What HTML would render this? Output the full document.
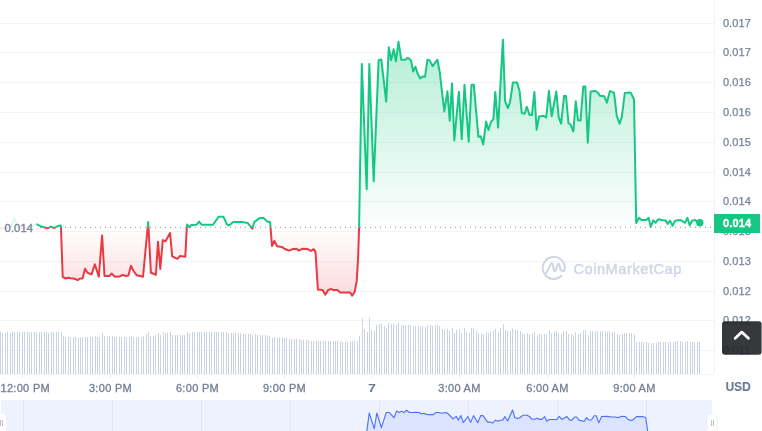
<!DOCTYPE html>
<html><head><meta charset="utf-8"><style>
html,body{margin:0;padding:0;background:#fff;}
body{width:762px;height:431px;overflow:hidden;position:relative;font-family:"Liberation Sans",Arial,sans-serif;}
svg{position:absolute;left:0;top:0;display:block}
svg.main{will-change:transform}
.yl text{font-size:11px;fill:#77819a;stroke:#77819a;stroke-width:0.25px;letter-spacing:0.1px}
.xl text{font-size:11px;fill:#737d94;stroke:#737d94;stroke-width:0.3px;letter-spacing:0.3px}
.xl text.b{font-weight:bold;fill:#6b7790;stroke:none;letter-spacing:0}
</style></head><body>
<svg width="762" height="431" viewBox="0 0 762 431"><text x="725.4" y="391" font-size="12" font-weight="bold" fill="#6a768e" font-family="Liberation Sans, Arial, sans-serif">USD</text></svg>
<svg class="main" width="762" height="431" viewBox="0 0 762 431">
<defs>
<linearGradient id="gg" x1="0" y1="40" x2="0" y2="235" gradientUnits="userSpaceOnUse">
<stop offset="0" stop-color="#16c784" stop-opacity="0.32"/><stop offset="1" stop-color="#16c784" stop-opacity="0"/></linearGradient>
<linearGradient id="rg" x1="0" y1="227" x2="0" y2="297" gradientUnits="userSpaceOnUse">
<stop offset="0" stop-color="#ea3943" stop-opacity="0"/><stop offset="1" stop-color="#ea3943" stop-opacity="0.19"/></linearGradient>
<clipPath id="up"><rect x="0" y="0" width="714" height="227.3"/></clipPath>
<clipPath id="dn"><rect x="0" y="227.3" width="714" height="200"/></clipPath>
<clipPath id="nav"><rect x="1" y="400" width="711" height="31"/></clipPath>
</defs>
<path d="M0 23.5H714M0 52.5H714M0 82.5H714M0 112.5H714M0 142.5H714M0 172.5H714M0 201.5H714M0 231.5H714M0 261.5H714M0 291.5H714M0 320.5H714M0 350.5H714" stroke="#f2f3f5" stroke-width="1" fill="none"/>
<path d="M714.5 0V374" stroke="#f2f3f5" stroke-width="1"/>
<path d="M0 374.5H714" stroke="#f2f3f5" stroke-width="1"/>
<path d="M0.5 332V374M2.5 333.1V374M5.5 333.1V374M7.5 332V374M10.5 333.1V374M12.5 332V374M14.5 332V374M17.5 332V374M19.5 332V374M22.5 332V374M24.5 332V374M27.5 332V374M29.5 332V374M31.5 332V374M34.5 332V374M36.5 332V374M39.5 332V374M41.5 332V374M44.5 332V374M46.5 332V374M48.5 333.1V374M51.5 332V374M53.5 332V374M56.5 332V374M58.5 332V374M61.5 332V374M63.5 336.2V374M65.5 337V374M68.5 337V374M70.5 337V374M73.5 337V374M75.5 337V374M78.5 337.8V374M80.5 337.8V374M82.5 337V374M85.5 337V374M87.5 337V374M90.5 337V374M92.5 337V374M95.5 336.2V374M97.5 337V374M99.5 337V374M102.5 333.1V374M104.5 336.2V374M107.5 336.2V374M109.5 336.2V374M112.5 336.2V374M114.5 337V374M116.5 337V374M119.5 337V374M121.5 337V374M124.5 337V374M126.5 337V374M129.5 337V374M131.5 335.9V374M133.5 337V374M136.5 337V374M138.5 337V374M141.5 337V374M143.5 335.9V374M146.5 333.9V374M148.5 332V374M150.5 335.9V374M153.5 335.9V374M155.5 335V374M158.5 333.1V374M160.5 335V374M163.5 332V374M165.5 333.1V374M167.5 333.1V374M170.5 332V374M172.5 335V374M175.5 335V374M177.5 335V374M180.5 335V374M182.5 335V374M184.5 335V374M187.5 332V374M189.5 333.1V374M192.5 332V374M194.5 332V374M197.5 332V374M199.5 332V374M201.5 332V374M204.5 332V374M206.5 332V374M209.5 332V374M211.5 332V374M214.5 332V374M216.5 332V374M218.5 332V374M221.5 332V374M223.5 332V374M226.5 332V374M228.5 333.1V374M231.5 333.1V374M233.5 333.1V374M235.5 333.1V374M238.5 333.1V374M240.5 333.1V374M243.5 333.9V374M245.5 333.9V374M248.5 333.9V374M250.5 333.9V374M252.5 335V374M255.5 333.9V374M257.5 335V374M260.5 335V374M262.5 335V374M265.5 335V374M267.5 335.9V374M269.5 335.9V374M272.5 337.8V374M274.5 337V374M277.5 337.8V374M279.5 337.8V374M282.5 337.8V374M284.5 337.8V374M286.5 337.8V374M289.5 338.9V374M291.5 338.9V374M294.5 338.9V374M296.5 338.9V374M299.5 338.9V374M301.5 339.9V374M303.5 339.9V374M306.5 339.9V374M308.5 339.9V374M311.5 341V374M313.5 341V374M316.5 341V374M318.5 341V374M320.5 341V374M323.5 341V374M325.5 341V374M328.5 341V374M330.5 341V374M333.5 341V374M335.5 341V374M337.5 341V374M340.5 341.7V374M342.5 341.7V374M345.5 341.7V374M347.5 341.7V374M350.5 341.7V374M352.5 341.2V374M354.5 341V374M357.5 341.1V374M359.5 336V374M362.5 317.9V374M364.5 329V374M367.5 332.1V374M369.5 317.9V374M371.5 330.1V374M374.5 331V374M376.5 325V374M379.5 323.9V374M381.5 323.9V374M384.5 326.1V374M386.5 328.2V374M388.5 323V374M391.5 323.9V374M393.5 323.9V374M396.5 325V374M398.5 323V374M401.5 325V374M403.5 325V374M405.5 325V374M408.5 325V374M410.5 325V374M413.5 326.1V374M415.5 326.1V374M418.5 326.1V374M420.5 327.1V374M422.5 326.1V374M425.5 327.1V374M427.5 325V374M430.5 325V374M432.5 326.1V374M435.5 325V374M437.5 325V374M439.5 326.1V374M442.5 329V374M444.5 330.1V374M447.5 329V374M449.5 331V374M452.5 328.2V374M454.5 333.2V374M456.5 330.1V374M459.5 329V374M461.5 333.2V374M464.5 328.2V374M466.5 332.1V374M469.5 333.2V374M471.5 328.2V374M473.5 328.2V374M476.5 331V374M478.5 333.2V374M481.5 333.2V374M483.5 334.2V374M486.5 332.1V374M488.5 333.2V374M490.5 332.1V374M493.5 331V374M495.5 329V374M498.5 332.1V374M500.5 328.2V374M503.5 324.2V374M505.5 330.1V374M507.5 331V374M510.5 331V374M512.5 329V374M515.5 330.1V374M517.5 330.1V374M520.5 331V374M522.5 333.2V374M524.5 334.2V374M527.5 333.2V374M529.5 334.2V374M532.5 334.2V374M534.5 332.1V374M537.5 335.3V374M539.5 334.2V374M541.5 334.2V374M544.5 334.2V374M546.5 334.2V374M549.5 331V374M551.5 333.2V374M554.5 332.1V374M556.5 331V374M558.5 333.2V374M561.5 334.2V374M563.5 331V374M566.5 331V374M568.5 334.2V374M571.5 334.2V374M573.5 335.3V374M575.5 332.1V374M578.5 334.2V374M580.5 333.2V374M583.5 330.1V374M585.5 330.1V374M588.5 335.3V374M590.5 331V374M592.5 331V374M595.5 331V374M597.5 331V374M600.5 331V374M602.5 331V374M605.5 331V374M607.5 331.8V374M609.5 331V374M612.5 332.1V374M614.5 332.1V374M617.5 334.2V374M619.5 335V374M622.5 334.2V374M624.5 333.1V374M626.5 333.1V374M629.5 333.1V374M631.5 333.1V374M634.5 334.2V374M636.5 342V374M639.5 342V374M641.5 342V374M643.5 342V374M646.5 342V374M648.5 343.1V374M651.5 343.1V374M653.5 343.1V374M656.5 343.1V374M658.5 342V374M660.5 342V374M663.5 342V374M665.5 342V374M668.5 342V374M670.5 342V374M673.5 342V374M675.5 341V374M677.5 341V374M680.5 341V374M682.5 342V374M685.5 342V374M687.5 341V374M690.5 342V374M692.5 342V374M694.5 342V374M697.5 342V374M699.5 342V374" stroke="#cbd2e3" stroke-width="1" fill="none"/>
<path d="M22.5 375V378M110.5 375V378M197.5 375V378M284.5 375V378M372.5 375V378M459.5 375V378M547.5 375V378M634.5 375V378" stroke="#e8ebf0" stroke-width="1"/>
<path d="M0 228.2 L4 228.6 L8 227.8 L11 226.5 L14.5 218.2 L17 226.8 L20 227.6 L24 228 L28 227.6 L31 226.6 L34.8 224.5 L37 224.4 L40.4 226.2 L47.4 228.3 L50.9 226.7 L54.4 228 L57.8 226 L60.9 225.5 L62.7 276.9 L65.6 278.5 L68 277.8 L71 278.3 L74.5 278.8 L77.7 280.1 L80 278.5 L82.6 278.5 L85 268.8 L87.5 272.8 L91.6 274.4 L94.8 264.2 L98.8 276.8 L102.1 235.4 L104.5 276 L109.4 276 L111.5 273.6 L115 276.8 L119 276.6 L122.8 275 L126 276 L128.4 275.6 L130.9 265.8 L133.5 271 L136.7 275.2 L140 276 L143 276.8 L148.2 221.9 L150.9 272.7 L155.9 274.7 L158 241.8 L160.3 268.9 L162.8 240.1 L165.5 241.3 L170.1 233 L172.2 256.4 L177.4 258.9 L180.1 256 L185.3 256.8 L187 224.4 L189.3 227.1 L191.4 225 L196.3 224.8 L199.1 221.6 L201.8 224.8 L213 224.8 L218.6 216.7 L223.4 216.7 L226.9 224.4 L229 225.5 L233.2 222 L242.2 222 L245 222.6 L247.8 223.1 L252.4 228.6 L254.3 222 L259.6 218.1 L263.8 218.1 L267.3 221.6 L270.1 222 L272 246 L274.3 240.8 L277.1 246.3 L281.7 246.9 L285.4 249.3 L289.1 250.6 L291.9 249.3 L296.5 248.8 L298.8 250.6 L302.1 248.8 L307.7 249.1 L311 251 L313.6 249.1 L315.5 251.9 L317.9 289.6 L322.5 290.1 L325.3 294.6 L328.1 290.1 L330.9 289 L333.6 290.1 L337.4 290.1 L340.1 292.4 L350.3 292.4 L352.2 295.7 L354.6 292 L356.7 281.4 L358.1 258.1 L359.1 227.4 L361.8 63.9 L366.7 189.3 L369.3 63.9 L373.7 181.2 L378.6 60.2 L381.3 59.4 L386.2 101.6 L388.8 47.2 L391.1 60.2 L393.7 49.3 L395.9 61.3 L398.5 41.8 L401.3 59.7 L405.3 59.7 L407.8 57.7 L411 60.2 L413.1 71.5 L415.4 66.7 L417.5 73.2 L420.3 78.5 L422.4 76.4 L425.1 76.7 L427.4 59.7 L429.7 60.4 L432.7 66.2 L437.4 59.7 L439.7 72 L444.3 111.4 L447.4 91.3 L449.7 120.7 L452 83.6 L454.3 140.4 L458.9 91.7 L461.7 139.2 L464.5 84.8 L468.7 141.6 L471.5 84.8 L473.8 84.8 L478.4 136.9 L480.7 136.2 L483.2 144.5 L486.1 121.5 L488.4 130 L491.2 121.5 L493.4 119.2 L495.3 91.9 L498.1 127.6 L502.9 39.8 L505.1 101.1 L507.9 108.1 L510.1 101.9 L512.9 82.4 L517.1 82.4 L519.6 91.3 L521.8 113.1 L524.6 113.7 L526.8 106.7 L529.6 115.1 L531.9 115.1 L534.4 91.9 L536.6 129.8 L539.1 116.4 L543.6 115.7 L546.2 117.5 L548.9 90.8 L551.7 116.3 L556.3 91.5 L558.7 117.2 L561.1 123.7 L564.1 95.7 L566 96 L568.5 123.3 L570.6 124.5 L573.3 131.5 L575.8 101.2 L578 120.3 L580.5 120.6 L583.3 86.4 L585.3 86.4 L587.8 142.8 L590.6 91.5 L595.6 91 L597.9 92.7 L600.1 95.8 L604.3 96.3 L606.9 102.7 L609.9 91.1 L614 92.6 L616.8 116.2 L619.6 123.6 L621.8 117.1 L624.8 93 L630.7 92.6 L634 99.5 L636.2 223.1 L638.9 217.7 L641.5 220 L646.3 220 L648.6 217.7 L650.7 226.9 L653.3 220.4 L655.5 222.8 L658.3 219.2 L661.6 220 L665.4 220.4 L667.8 223.9 L670.1 220.7 L672.5 225.9 L675.2 220.7 L680.5 220 L685 222.8 L687.5 217.8 L689.7 225.5 L692.1 220.7 L695.3 220 L697 221.6 L699.6 222.4 L699.6 227.3 L0 227.3 Z" fill="url(#gg)" clip-path="url(#up)"/>
<path d="M0 228.2 L4 228.6 L8 227.8 L11 226.5 L14.5 218.2 L17 226.8 L20 227.6 L24 228 L28 227.6 L31 226.6 L34.8 224.5 L37 224.4 L40.4 226.2 L47.4 228.3 L50.9 226.7 L54.4 228 L57.8 226 L60.9 225.5 L62.7 276.9 L65.6 278.5 L68 277.8 L71 278.3 L74.5 278.8 L77.7 280.1 L80 278.5 L82.6 278.5 L85 268.8 L87.5 272.8 L91.6 274.4 L94.8 264.2 L98.8 276.8 L102.1 235.4 L104.5 276 L109.4 276 L111.5 273.6 L115 276.8 L119 276.6 L122.8 275 L126 276 L128.4 275.6 L130.9 265.8 L133.5 271 L136.7 275.2 L140 276 L143 276.8 L148.2 221.9 L150.9 272.7 L155.9 274.7 L158 241.8 L160.3 268.9 L162.8 240.1 L165.5 241.3 L170.1 233 L172.2 256.4 L177.4 258.9 L180.1 256 L185.3 256.8 L187 224.4 L189.3 227.1 L191.4 225 L196.3 224.8 L199.1 221.6 L201.8 224.8 L213 224.8 L218.6 216.7 L223.4 216.7 L226.9 224.4 L229 225.5 L233.2 222 L242.2 222 L245 222.6 L247.8 223.1 L252.4 228.6 L254.3 222 L259.6 218.1 L263.8 218.1 L267.3 221.6 L270.1 222 L272 246 L274.3 240.8 L277.1 246.3 L281.7 246.9 L285.4 249.3 L289.1 250.6 L291.9 249.3 L296.5 248.8 L298.8 250.6 L302.1 248.8 L307.7 249.1 L311 251 L313.6 249.1 L315.5 251.9 L317.9 289.6 L322.5 290.1 L325.3 294.6 L328.1 290.1 L330.9 289 L333.6 290.1 L337.4 290.1 L340.1 292.4 L350.3 292.4 L352.2 295.7 L354.6 292 L356.7 281.4 L358.1 258.1 L359.1 227.4 L361.8 63.9 L366.7 189.3 L369.3 63.9 L373.7 181.2 L378.6 60.2 L381.3 59.4 L386.2 101.6 L388.8 47.2 L391.1 60.2 L393.7 49.3 L395.9 61.3 L398.5 41.8 L401.3 59.7 L405.3 59.7 L407.8 57.7 L411 60.2 L413.1 71.5 L415.4 66.7 L417.5 73.2 L420.3 78.5 L422.4 76.4 L425.1 76.7 L427.4 59.7 L429.7 60.4 L432.7 66.2 L437.4 59.7 L439.7 72 L444.3 111.4 L447.4 91.3 L449.7 120.7 L452 83.6 L454.3 140.4 L458.9 91.7 L461.7 139.2 L464.5 84.8 L468.7 141.6 L471.5 84.8 L473.8 84.8 L478.4 136.9 L480.7 136.2 L483.2 144.5 L486.1 121.5 L488.4 130 L491.2 121.5 L493.4 119.2 L495.3 91.9 L498.1 127.6 L502.9 39.8 L505.1 101.1 L507.9 108.1 L510.1 101.9 L512.9 82.4 L517.1 82.4 L519.6 91.3 L521.8 113.1 L524.6 113.7 L526.8 106.7 L529.6 115.1 L531.9 115.1 L534.4 91.9 L536.6 129.8 L539.1 116.4 L543.6 115.7 L546.2 117.5 L548.9 90.8 L551.7 116.3 L556.3 91.5 L558.7 117.2 L561.1 123.7 L564.1 95.7 L566 96 L568.5 123.3 L570.6 124.5 L573.3 131.5 L575.8 101.2 L578 120.3 L580.5 120.6 L583.3 86.4 L585.3 86.4 L587.8 142.8 L590.6 91.5 L595.6 91 L597.9 92.7 L600.1 95.8 L604.3 96.3 L606.9 102.7 L609.9 91.1 L614 92.6 L616.8 116.2 L619.6 123.6 L621.8 117.1 L624.8 93 L630.7 92.6 L634 99.5 L636.2 223.1 L638.9 217.7 L641.5 220 L646.3 220 L648.6 217.7 L650.7 226.9 L653.3 220.4 L655.5 222.8 L658.3 219.2 L661.6 220 L665.4 220.4 L667.8 223.9 L670.1 220.7 L672.5 225.9 L675.2 220.7 L680.5 220 L685 222.8 L687.5 217.8 L689.7 225.5 L692.1 220.7 L695.3 220 L697 221.6 L699.6 222.4 L699.6 227.3 L0 227.3 Z" fill="url(#rg)" clip-path="url(#dn)"/>
<path d="M40 227.3H714" stroke="#8d94a3" stroke-width="1" stroke-dasharray="1 4" fill="none"/>
<g fill="none" stroke-width="2" stroke-linejoin="round" stroke-linecap="round">
<path d="M0 228.2 L4 228.6 L8 227.8 L11 226.5 L14.5 218.2 L17 226.8 L20 227.6 L24 228 L28 227.6 L31 226.6 L34.8 224.5 L37 224.4 L40.4 226.2 L47.4 228.3 L50.9 226.7 L54.4 228 L57.8 226 L60.9 225.5 L62.7 276.9 L65.6 278.5 L68 277.8 L71 278.3 L74.5 278.8 L77.7 280.1 L80 278.5 L82.6 278.5 L85 268.8 L87.5 272.8 L91.6 274.4 L94.8 264.2 L98.8 276.8 L102.1 235.4 L104.5 276 L109.4 276 L111.5 273.6 L115 276.8 L119 276.6 L122.8 275 L126 276 L128.4 275.6 L130.9 265.8 L133.5 271 L136.7 275.2 L140 276 L143 276.8 L148.2 221.9 L150.9 272.7 L155.9 274.7 L158 241.8 L160.3 268.9 L162.8 240.1 L165.5 241.3 L170.1 233 L172.2 256.4 L177.4 258.9 L180.1 256 L185.3 256.8 L187 224.4 L189.3 227.1 L191.4 225 L196.3 224.8 L199.1 221.6 L201.8 224.8 L213 224.8 L218.6 216.7 L223.4 216.7 L226.9 224.4 L229 225.5 L233.2 222 L242.2 222 L245 222.6 L247.8 223.1 L252.4 228.6 L254.3 222 L259.6 218.1 L263.8 218.1 L267.3 221.6 L270.1 222 L272 246 L274.3 240.8 L277.1 246.3 L281.7 246.9 L285.4 249.3 L289.1 250.6 L291.9 249.3 L296.5 248.8 L298.8 250.6 L302.1 248.8 L307.7 249.1 L311 251 L313.6 249.1 L315.5 251.9 L317.9 289.6 L322.5 290.1 L325.3 294.6 L328.1 290.1 L330.9 289 L333.6 290.1 L337.4 290.1 L340.1 292.4 L350.3 292.4 L352.2 295.7 L354.6 292 L356.7 281.4 L358.1 258.1 L359.1 227.4 L361.8 63.9 L366.7 189.3 L369.3 63.9 L373.7 181.2 L378.6 60.2 L381.3 59.4 L386.2 101.6 L388.8 47.2 L391.1 60.2 L393.7 49.3 L395.9 61.3 L398.5 41.8 L401.3 59.7 L405.3 59.7 L407.8 57.7 L411 60.2 L413.1 71.5 L415.4 66.7 L417.5 73.2 L420.3 78.5 L422.4 76.4 L425.1 76.7 L427.4 59.7 L429.7 60.4 L432.7 66.2 L437.4 59.7 L439.7 72 L444.3 111.4 L447.4 91.3 L449.7 120.7 L452 83.6 L454.3 140.4 L458.9 91.7 L461.7 139.2 L464.5 84.8 L468.7 141.6 L471.5 84.8 L473.8 84.8 L478.4 136.9 L480.7 136.2 L483.2 144.5 L486.1 121.5 L488.4 130 L491.2 121.5 L493.4 119.2 L495.3 91.9 L498.1 127.6 L502.9 39.8 L505.1 101.1 L507.9 108.1 L510.1 101.9 L512.9 82.4 L517.1 82.4 L519.6 91.3 L521.8 113.1 L524.6 113.7 L526.8 106.7 L529.6 115.1 L531.9 115.1 L534.4 91.9 L536.6 129.8 L539.1 116.4 L543.6 115.7 L546.2 117.5 L548.9 90.8 L551.7 116.3 L556.3 91.5 L558.7 117.2 L561.1 123.7 L564.1 95.7 L566 96 L568.5 123.3 L570.6 124.5 L573.3 131.5 L575.8 101.2 L578 120.3 L580.5 120.6 L583.3 86.4 L585.3 86.4 L587.8 142.8 L590.6 91.5 L595.6 91 L597.9 92.7 L600.1 95.8 L604.3 96.3 L606.9 102.7 L609.9 91.1 L614 92.6 L616.8 116.2 L619.6 123.6 L621.8 117.1 L624.8 93 L630.7 92.6 L634 99.5 L636.2 223.1 L638.9 217.7 L641.5 220 L646.3 220 L648.6 217.7 L650.7 226.9 L653.3 220.4 L655.5 222.8 L658.3 219.2 L661.6 220 L665.4 220.4 L667.8 223.9 L670.1 220.7 L672.5 225.9 L675.2 220.7 L680.5 220 L685 222.8 L687.5 217.8 L689.7 225.5 L692.1 220.7 L695.3 220 L697 221.6 L699.6 222.4" stroke="#16c784" clip-path="url(#up)"/>
<path d="M0 228.2 L4 228.6 L8 227.8 L11 226.5 L14.5 218.2 L17 226.8 L20 227.6 L24 228 L28 227.6 L31 226.6 L34.8 224.5 L37 224.4 L40.4 226.2 L47.4 228.3 L50.9 226.7 L54.4 228 L57.8 226 L60.9 225.5 L62.7 276.9 L65.6 278.5 L68 277.8 L71 278.3 L74.5 278.8 L77.7 280.1 L80 278.5 L82.6 278.5 L85 268.8 L87.5 272.8 L91.6 274.4 L94.8 264.2 L98.8 276.8 L102.1 235.4 L104.5 276 L109.4 276 L111.5 273.6 L115 276.8 L119 276.6 L122.8 275 L126 276 L128.4 275.6 L130.9 265.8 L133.5 271 L136.7 275.2 L140 276 L143 276.8 L148.2 221.9 L150.9 272.7 L155.9 274.7 L158 241.8 L160.3 268.9 L162.8 240.1 L165.5 241.3 L170.1 233 L172.2 256.4 L177.4 258.9 L180.1 256 L185.3 256.8 L187 224.4 L189.3 227.1 L191.4 225 L196.3 224.8 L199.1 221.6 L201.8 224.8 L213 224.8 L218.6 216.7 L223.4 216.7 L226.9 224.4 L229 225.5 L233.2 222 L242.2 222 L245 222.6 L247.8 223.1 L252.4 228.6 L254.3 222 L259.6 218.1 L263.8 218.1 L267.3 221.6 L270.1 222 L272 246 L274.3 240.8 L277.1 246.3 L281.7 246.9 L285.4 249.3 L289.1 250.6 L291.9 249.3 L296.5 248.8 L298.8 250.6 L302.1 248.8 L307.7 249.1 L311 251 L313.6 249.1 L315.5 251.9 L317.9 289.6 L322.5 290.1 L325.3 294.6 L328.1 290.1 L330.9 289 L333.6 290.1 L337.4 290.1 L340.1 292.4 L350.3 292.4 L352.2 295.7 L354.6 292 L356.7 281.4 L358.1 258.1 L359.1 227.4 L361.8 63.9 L366.7 189.3 L369.3 63.9 L373.7 181.2 L378.6 60.2 L381.3 59.4 L386.2 101.6 L388.8 47.2 L391.1 60.2 L393.7 49.3 L395.9 61.3 L398.5 41.8 L401.3 59.7 L405.3 59.7 L407.8 57.7 L411 60.2 L413.1 71.5 L415.4 66.7 L417.5 73.2 L420.3 78.5 L422.4 76.4 L425.1 76.7 L427.4 59.7 L429.7 60.4 L432.7 66.2 L437.4 59.7 L439.7 72 L444.3 111.4 L447.4 91.3 L449.7 120.7 L452 83.6 L454.3 140.4 L458.9 91.7 L461.7 139.2 L464.5 84.8 L468.7 141.6 L471.5 84.8 L473.8 84.8 L478.4 136.9 L480.7 136.2 L483.2 144.5 L486.1 121.5 L488.4 130 L491.2 121.5 L493.4 119.2 L495.3 91.9 L498.1 127.6 L502.9 39.8 L505.1 101.1 L507.9 108.1 L510.1 101.9 L512.9 82.4 L517.1 82.4 L519.6 91.3 L521.8 113.1 L524.6 113.7 L526.8 106.7 L529.6 115.1 L531.9 115.1 L534.4 91.9 L536.6 129.8 L539.1 116.4 L543.6 115.7 L546.2 117.5 L548.9 90.8 L551.7 116.3 L556.3 91.5 L558.7 117.2 L561.1 123.7 L564.1 95.7 L566 96 L568.5 123.3 L570.6 124.5 L573.3 131.5 L575.8 101.2 L578 120.3 L580.5 120.6 L583.3 86.4 L585.3 86.4 L587.8 142.8 L590.6 91.5 L595.6 91 L597.9 92.7 L600.1 95.8 L604.3 96.3 L606.9 102.7 L609.9 91.1 L614 92.6 L616.8 116.2 L619.6 123.6 L621.8 117.1 L624.8 93 L630.7 92.6 L634 99.5 L636.2 223.1 L638.9 217.7 L641.5 220 L646.3 220 L648.6 217.7 L650.7 226.9 L653.3 220.4 L655.5 222.8 L658.3 219.2 L661.6 220 L665.4 220.4 L667.8 223.9 L670.1 220.7 L672.5 225.9 L675.2 220.7 L680.5 220 L685 222.8 L687.5 217.8 L689.7 225.5 L692.1 220.7 L695.3 220 L697 221.6 L699.6 222.4" stroke="#ea3943" clip-path="url(#dn)"/>
</g>
<circle cx="699.8" cy="222.7" r="3.7" fill="#16c784"/>
<g fill="#cfd6e4">
<text x="573.4" y="274" font-size="14.6" letter-spacing="0.55" fill="#cfd6e4" stroke="#cfd6e4" stroke-width="0.5">CoinMarketCap</text>
</g>
<g fill="none" stroke="#cdd4e4" stroke-width="1.9" stroke-linecap="round" stroke-linejoin="round">
<path d="M561.4 275.8 A11 11 0 1 1 564.4 270.6"/>
<path d="M546.3 273.2 L550.6 264.4 Q551.8 262.2 552.8 264.4 L553.9 270.2 Q554.6 272 555.6 270.2 L557.6 264.6 Q558.6 262.6 559.4 264.8 L560.3 268.6 Q561.3 271.8 564.2 270.6"/>
</g>
<rect x="0" y="216" width="36.5" height="23" fill="#fff" fill-opacity="0.86"/>
<text x="4.6" y="232.1" font-size="11.4" fill="#7a8499" stroke="#7a8499" stroke-width="0.35" letter-spacing="0">0.014</text>
<g class="yl"><text x="722.9" y="26.8">0.017</text><text x="722.9" y="55.8">0.017</text><text x="722.9" y="85.8">0.016</text><text x="722.9" y="115.8">0.016</text><text x="722.9" y="145.8">0.015</text><text x="722.9" y="175.8">0.014</text><text x="722.9" y="204.8">0.014</text><text x="722.9" y="234.8">0.013</text><text x="722.9" y="264.8">0.013</text><text x="722.9" y="294.8">0.012</text><text x="722.9" y="323.8">0.012</text><text x="722.9" y="353.8">0.011</text></g>
<rect x="714" y="214" width="46" height="19" fill="#16c784"/>
<text x="722.9" y="226.9" font-size="11" font-weight="bold" fill="#fff" stroke="#fff" stroke-width="0.35" letter-spacing="0.2">0.014</text>
<g class="xl"><text x="0.5" y="391.9" text-anchor="start">12:00 PM</text><text x="110.5" y="391.9" text-anchor="middle">3:00 PM</text><text x="197.5" y="391.9" text-anchor="middle">6:00 PM</text><text x="284.5" y="391.9" text-anchor="middle">9:00 PM</text><text x="459.5" y="391.9" text-anchor="middle">3:00 AM</text><text x="547.5" y="391.9" text-anchor="middle">6:00 AM</text><text x="634.5" y="391.9" text-anchor="middle">9:00 AM</text><text class="b" transform="translate(371.95 391.9) scale(1.3 1)" x="0" y="0" text-anchor="middle">7</text></g>
<rect x="1" y="400" width="711" height="31" fill="#eef2fe"/>
<path d="M23.5 400V431M112.5 400V431M201.5 400V431M290.5 400V431M379.5 400V431M468.5 400V431M557.5 400V431M646.5 400V431" stroke="#e0e6f6" stroke-width="1"/>
<g clip-path="url(#nav)">
<path d="M1.8 433.52 L5.86 433.57 L9.92 433.48 L12.97 433.31 L16.53 432.27 L19.07 433.35 L22.11 433.45 L26.17 433.5 L30.24 433.45 L33.28 433.32 L37.14 433.06 L39.38 433.05 L42.83 433.27 L49.94 433.54 L53.49 433.34 L57.05 433.5 L60.5 433.25 L63.65 433.19 L65.48 439.61 L68.42 439.81 L70.86 439.73 L73.91 439.79 L77.46 439.85 L80.71 440.01 L83.05 439.81 L85.69 439.81 L88.13 438.6 L90.67 439.1 L94.83 439.3 L98.08 438.02 L102.14 439.6 L105.49 434.43 L107.93 439.5 L112.91 439.5 L115.04 439.2 L118.59 439.6 L122.66 439.57 L126.52 439.38 L129.77 439.5 L132.2 439.45 L134.74 438.23 L137.38 438.88 L140.63 439.4 L143.98 439.5 L147.03 439.6 L152.31 432.74 L155.05 439.09 L160.13 439.34 L162.26 435.23 L164.6 438.61 L167.14 435.01 L169.88 435.16 L174.55 434.12 L176.69 437.05 L181.97 437.36 L184.71 437 L189.99 437.1 L191.72 433.05 L194.05 433.39 L196.19 433.12 L201.16 433.1 L204.01 432.7 L206.75 433.1 L218.12 433.1 L223.81 432.09 L228.69 432.09 L232.24 433.05 L234.37 433.19 L238.64 432.75 L247.78 432.75 L250.62 432.82 L253.47 432.89 L258.14 433.57 L260.07 432.75 L265.45 432.26 L269.72 432.26 L273.27 432.7 L276.11 432.75 L278.04 435.75 L280.38 435.1 L283.22 435.79 L287.89 435.86 L291.65 436.16 L295.41 436.32 L298.25 436.16 L302.93 436.1 L305.26 436.32 L308.61 436.1 L314.3 436.14 L317.65 436.38 L320.29 436.14 L322.22 436.49 L324.66 441.2 L329.33 441.26 L332.17 441.82 L335.02 441.26 L337.86 441.12 L340.6 441.26 L344.46 441.26 L347.21 441.55 L357.56 441.55 L359.49 441.96 L361.93 441.5 L364.06 440.18 L365.49 437.26 L366.5 433.43 L369.24 412.99 L374.22 428.66 L376.86 412.99 L381.33 427.65 L386.31 412.52 L389.05 412.43 L394.02 417.7 L396.67 410.9 L399 412.52 L401.64 411.16 L403.88 412.66 L406.52 410.23 L409.36 412.46 L413.42 412.46 L415.96 412.21 L419.21 412.52 L421.34 413.94 L423.68 413.34 L425.81 414.15 L428.66 414.81 L430.79 414.55 L433.53 414.59 L435.87 412.46 L438.2 412.55 L441.25 413.27 L446.02 412.46 L448.36 414 L453.03 418.93 L456.18 416.41 L458.52 420.09 L460.85 415.45 L463.19 422.55 L467.86 416.46 L470.7 422.4 L473.55 415.6 L477.81 422.7 L480.66 415.6 L482.99 415.6 L487.66 422.11 L490 422.02 L492.54 423.06 L495.48 420.19 L497.82 421.25 L500.66 420.19 L502.9 419.9 L504.83 416.49 L507.67 420.95 L512.55 409.98 L514.78 417.64 L517.62 418.51 L519.86 417.74 L522.7 415.3 L526.97 415.3 L529.51 416.41 L531.74 419.14 L534.58 419.21 L536.82 418.34 L539.66 419.39 L542 419.39 L544.54 416.49 L546.77 421.23 L549.31 419.55 L553.88 419.46 L556.52 419.69 L559.26 416.35 L562.11 419.54 L566.78 416.44 L569.22 419.65 L571.65 420.46 L574.7 416.96 L576.63 417 L579.17 420.41 L581.3 420.56 L584.04 421.44 L586.58 417.65 L588.82 420.04 L591.36 420.07 L594.2 415.8 L596.23 415.8 L598.77 422.85 L601.61 416.44 L606.69 416.38 L609.03 416.59 L611.26 416.98 L615.53 417.04 L618.17 417.84 L621.21 416.39 L625.38 416.57 L628.22 419.52 L631.07 420.45 L633.3 419.64 L636.35 416.62 L642.34 416.57 L645.69 417.44 L647.92 432.89 L650.67 432.21 L653.31 432.5 L658.18 432.5 L660.52 432.21 L662.65 433.36 L665.29 432.55 L667.53 432.85 L670.37 432.4 L673.72 432.5 L677.58 432.55 L680.02 432.99 L682.35 432.59 L684.79 433.24 L687.53 432.59 L692.92 432.5 L697.49 432.85 L700.02 432.23 L702.26 433.19 L704.7 432.59 L707.95 432.5 L709.67 432.7 L712.31 432.8 L712.31 460 L1.8 460 Z" fill="#dce3fd"/>
<path d="M1.8 433.52 L5.86 433.57 L9.92 433.48 L12.97 433.31 L16.53 432.27 L19.07 433.35 L22.11 433.45 L26.17 433.5 L30.24 433.45 L33.28 433.32 L37.14 433.06 L39.38 433.05 L42.83 433.27 L49.94 433.54 L53.49 433.34 L57.05 433.5 L60.5 433.25 L63.65 433.19 L65.48 439.61 L68.42 439.81 L70.86 439.73 L73.91 439.79 L77.46 439.85 L80.71 440.01 L83.05 439.81 L85.69 439.81 L88.13 438.6 L90.67 439.1 L94.83 439.3 L98.08 438.02 L102.14 439.6 L105.49 434.43 L107.93 439.5 L112.91 439.5 L115.04 439.2 L118.59 439.6 L122.66 439.57 L126.52 439.38 L129.77 439.5 L132.2 439.45 L134.74 438.23 L137.38 438.88 L140.63 439.4 L143.98 439.5 L147.03 439.6 L152.31 432.74 L155.05 439.09 L160.13 439.34 L162.26 435.23 L164.6 438.61 L167.14 435.01 L169.88 435.16 L174.55 434.12 L176.69 437.05 L181.97 437.36 L184.71 437 L189.99 437.1 L191.72 433.05 L194.05 433.39 L196.19 433.12 L201.16 433.1 L204.01 432.7 L206.75 433.1 L218.12 433.1 L223.81 432.09 L228.69 432.09 L232.24 433.05 L234.37 433.19 L238.64 432.75 L247.78 432.75 L250.62 432.82 L253.47 432.89 L258.14 433.57 L260.07 432.75 L265.45 432.26 L269.72 432.26 L273.27 432.7 L276.11 432.75 L278.04 435.75 L280.38 435.1 L283.22 435.79 L287.89 435.86 L291.65 436.16 L295.41 436.32 L298.25 436.16 L302.93 436.1 L305.26 436.32 L308.61 436.1 L314.3 436.14 L317.65 436.38 L320.29 436.14 L322.22 436.49 L324.66 441.2 L329.33 441.26 L332.17 441.82 L335.02 441.26 L337.86 441.12 L340.6 441.26 L344.46 441.26 L347.21 441.55 L357.56 441.55 L359.49 441.96 L361.93 441.5 L364.06 440.18 L365.49 437.26 L366.5 433.43 L369.24 412.99 L374.22 428.66 L376.86 412.99 L381.33 427.65 L386.31 412.52 L389.05 412.43 L394.02 417.7 L396.67 410.9 L399 412.52 L401.64 411.16 L403.88 412.66 L406.52 410.23 L409.36 412.46 L413.42 412.46 L415.96 412.21 L419.21 412.52 L421.34 413.94 L423.68 413.34 L425.81 414.15 L428.66 414.81 L430.79 414.55 L433.53 414.59 L435.87 412.46 L438.2 412.55 L441.25 413.27 L446.02 412.46 L448.36 414 L453.03 418.93 L456.18 416.41 L458.52 420.09 L460.85 415.45 L463.19 422.55 L467.86 416.46 L470.7 422.4 L473.55 415.6 L477.81 422.7 L480.66 415.6 L482.99 415.6 L487.66 422.11 L490 422.02 L492.54 423.06 L495.48 420.19 L497.82 421.25 L500.66 420.19 L502.9 419.9 L504.83 416.49 L507.67 420.95 L512.55 409.98 L514.78 417.64 L517.62 418.51 L519.86 417.74 L522.7 415.3 L526.97 415.3 L529.51 416.41 L531.74 419.14 L534.58 419.21 L536.82 418.34 L539.66 419.39 L542 419.39 L544.54 416.49 L546.77 421.23 L549.31 419.55 L553.88 419.46 L556.52 419.69 L559.26 416.35 L562.11 419.54 L566.78 416.44 L569.22 419.65 L571.65 420.46 L574.7 416.96 L576.63 417 L579.17 420.41 L581.3 420.56 L584.04 421.44 L586.58 417.65 L588.82 420.04 L591.36 420.07 L594.2 415.8 L596.23 415.8 L598.77 422.85 L601.61 416.44 L606.69 416.38 L609.03 416.59 L611.26 416.98 L615.53 417.04 L618.17 417.84 L621.21 416.39 L625.38 416.57 L628.22 419.52 L631.07 420.45 L633.3 419.64 L636.35 416.62 L642.34 416.57 L645.69 417.44 L647.92 432.89 L650.67 432.21 L653.31 432.5 L658.18 432.5 L660.52 432.21 L662.65 433.36 L665.29 432.55 L667.53 432.85 L670.37 432.4 L673.72 432.5 L677.58 432.55 L680.02 432.99 L682.35 432.59 L684.79 433.24 L687.53 432.59 L692.92 432.5 L697.49 432.85 L700.02 432.23 L702.26 433.19 L704.7 432.59 L707.95 432.5 L709.67 432.7 L712.31 432.8" fill="none" stroke="#4a70f8" stroke-width="1.1" stroke-linejoin="round"/>
</g>
<rect x="-4" y="413.3" width="10.3" height="24" rx="4" fill="#fff" stroke="#eef0f4" stroke-width="0.8"/>
<path d="M0.5 420V426M2.5 420V426" stroke="#bcc2cf" stroke-width="1"/>
<rect x="707.2" y="413.8" width="10.2" height="24" rx="4" fill="#fff" stroke="#eef0f4" stroke-width="0.8"/>
<path d="M711.5 420V426M713.5 420V426" stroke="#bcc2cf" stroke-width="1"/>
<rect x="722" y="321.2" width="39.6" height="33.6" rx="3" fill="#212226" fill-opacity="0.9"/>
<path d="M735.2 338.3 L741.8 332.1 L748.4 338.3" fill="none" stroke="#fff" stroke-width="2.8" stroke-linecap="round" stroke-linejoin="round"/>
</svg>
</body></html>
